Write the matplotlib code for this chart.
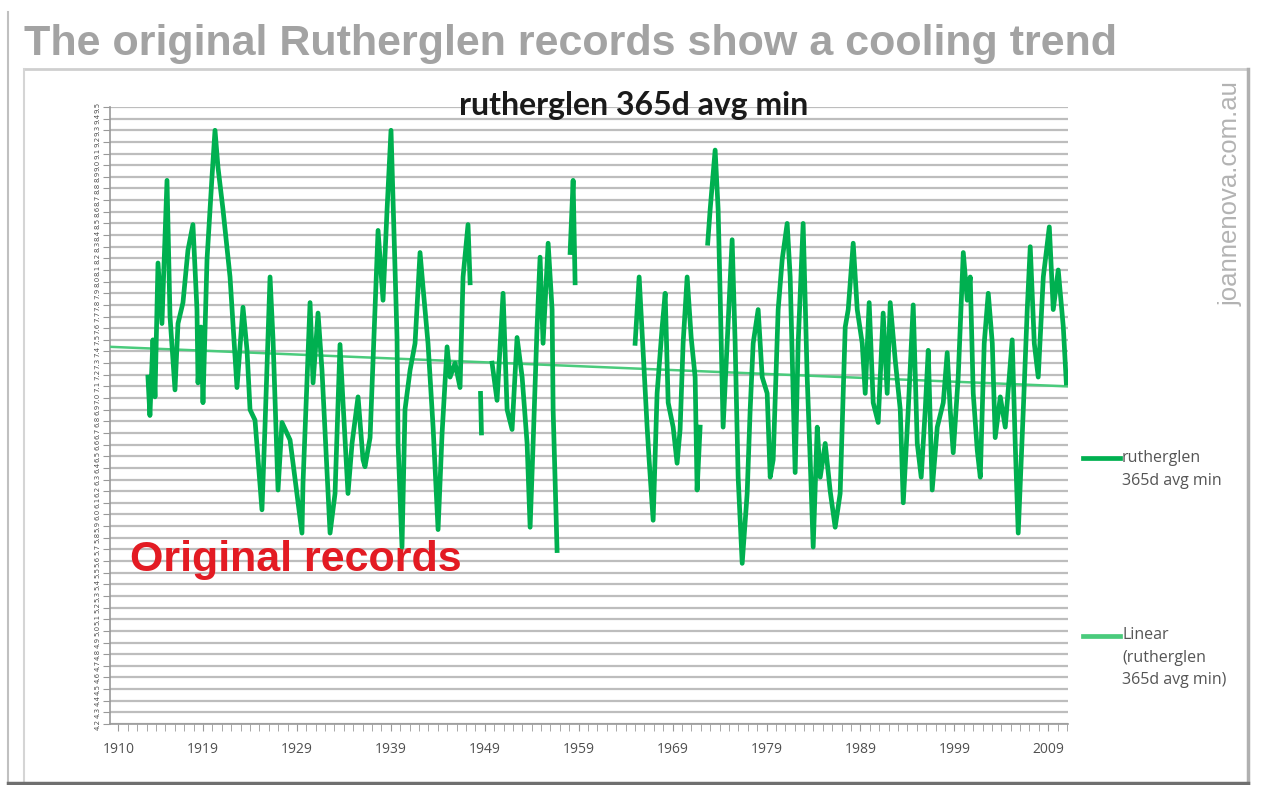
"""
Rutherglen 365-day average minimum temperature, original records.
"""

import numpy as np
import matplotlib
matplotlib.use("Agg")
import matplotlib.pyplot as plt
from matplotlib.lines import Line2D

# ------------------------------------------------------------------
# Data (nan = gap in the record)
# ------------------------------------------------------------------
nan = np.nan

years = [
    1913.14, 1913.35, 1913.67, 1913.89, 1914.21, 1914.63, 1915.17, 1915.49,
    1916.02, 1916.34, 1916.87, 1917.40, 1917.93, 1918.36, 1918.47, 1918.79,
    1919.00, 1919.43, 1919.96, 1920.28, 1920.60, 1921.13, 1921.88, 1922.62,
    1923.26, 1923.69, 1924.01, 1924.54, 1925.28, 1925.60, 1926.14, 1926.46,
    1926.99, 1927.41, 1928.27, 1929.54, 1929.65, 1930.40, 1930.72, 1931.25,
    1931.67, 1932.53, 1933.06, 1933.59, 1933.91, 1934.44, 1934.87, 1935.51,
    1936.04, 1936.25, 1936.79, 1937.32, 1937.64, 1938.17, 1938.60, 1939.02,
    1939.24, 1939.66, 1939.77, 1940.19, 1940.51, 1941.05, 1941.58, 1942.11,
    1942.43, 1942.96, 1943.50, 1944.03, 1944.46, 1944.99, 1945.31, 1945.84,
    1946.37, 1946.69, 1947.22, 1947.44,
    nan,
    1948.55, 1948.65,
    nan,
    1949.78, 1950.31, 1950.95, 1951.38, 1951.91, 1952.44, 1952.98, 1953.51,
    1953.83, 1954.15, 1954.57, 1954.89, 1955.21, 1955.75, 1956.17, 1956.28,
    1956.70,
    nan,
    1958.09, 1958.41, 1958.62,
    nan,
    1965.01, 1965.44, 1965.86, 1966.29, 1966.50, 1966.93, 1967.35, 1967.89,
    1968.21, 1968.53, 1969.06, 1969.48, 1969.80, 1970.12, 1970.55, 1970.98,
    1971.40, 1971.61, 1971.93,
    nan,
    1972.74, 1973.00, 1973.53, 1973.85, 1974.06, 1974.38, 1974.81, 1975.34,
    1975.66, 1975.98, 1976.41, 1976.94, 1977.26, 1977.58, 1978.11, 1978.54,
    1979.07, 1979.39, 1979.71, 1980.24, 1980.67, 1981.20, 1981.52, 1982.05,
    1982.37, 1982.90, 1983.33, 1983.65, 1983.97, 1984.40, 1984.72, 1985.25,
    1985.78, 1986.31, 1986.84, 1987.38, 1987.70, 1988.23, 1988.66, 1989.19,
    1989.51, 1989.93, 1990.36, 1990.89, 1991.42, 1991.85, 1992.17, 1992.70,
    1993.24, 1993.56, 1994.09, 1994.62, 1995.05, 1995.47, 1995.90, 1996.22,
    1996.64, 1997.18, 1997.82, 1998.24, 1998.56, 1998.88, 1999.41, 1999.95,
    2000.37, 2000.69, 2001.01, 2001.44, 2001.76, 2002.18, 2002.61, 2003.04,
    2003.35, 2003.89, 2004.42, 2005.16, 2005.48, 2005.80, 2006.34, 2006.76,
    2007.08, 2007.51, 2007.93, 2008.47, 2009.11, 2009.53, 2010.06, 2010.60,
    2010.92,
]

temps = [
    7.18, 6.85, 7.50, 7.01, 8.16, 7.64, 8.87, 7.70,
    7.07, 7.64, 7.82, 8.27, 8.49, 7.76, 7.13, 7.61,
    6.96, 8.19, 8.90, 9.30, 8.98, 8.62, 8.04, 7.09,
    7.78, 7.41, 6.90, 6.81, 6.04, 6.75, 8.04, 7.50,
    6.21, 6.79, 6.64, 5.84, 6.27, 7.82, 7.13, 7.73,
    7.24, 5.84, 6.18, 7.46, 6.96, 6.18, 6.61, 7.01,
    6.47, 6.41, 6.66, 7.76, 8.44, 7.84, 8.62, 9.30,
    8.68, 7.52, 6.61, 5.72, 6.90, 7.24, 7.47, 8.25,
    7.95, 7.47, 6.75, 5.87, 6.70, 7.44, 7.18, 7.30,
    7.09, 8.04, 8.49, 7.99,
    nan,
    7.04, 6.70,
    nan,
    7.30, 6.98, 7.90, 6.90, 6.73, 7.52, 7.18, 6.61,
    5.89, 6.61, 7.61, 8.21, 7.47, 8.33, 7.76, 6.90,
    5.69,
    nan,
    8.25, 8.87, 7.99,
    nan,
    7.47, 8.04, 7.41, 6.75, 6.47, 5.95, 7.04, 7.61,
    7.90, 6.96, 6.75, 6.44, 6.73, 7.47, 8.04, 7.52,
    7.18, 6.21, 6.75,
    nan,
    8.33, 8.62, 9.13, 8.62, 7.90, 6.75, 7.47, 8.36,
    7.47, 6.32, 5.58, 6.18, 6.90, 7.47, 7.76, 7.18,
    7.04, 6.32, 6.47, 7.76, 8.19, 8.50, 8.04, 6.36,
    7.47, 8.50, 7.18, 6.47, 5.72, 6.75, 6.32, 6.61,
    6.20, 5.89, 6.18, 7.61, 7.76, 8.33, 7.76, 7.47,
    7.04, 7.82, 6.96, 6.79, 7.73, 7.04, 7.82, 7.33,
    6.90, 6.10, 6.90, 7.80, 6.61, 6.32, 6.90, 7.41,
    6.21, 6.75, 6.96, 7.39, 6.90, 6.53, 7.18, 8.25,
    7.84, 8.04, 7.04, 6.55, 6.32, 7.47, 7.90, 7.47,
    6.66, 7.01, 6.75, 7.50, 6.61, 5.84, 6.90, 7.76,
    8.30, 7.47, 7.18, 8.04, 8.47, 7.76, 8.10, 7.61,
    7.13,
]

# linear trend, read at both ends of the axis
trend_years = [1909.1, 2011.1]
trend_temps = [7.44, 7.10]

x_labels = [1910, 1919, 1929, 1939, 1949, 1959, 1969, 1979, 1989, 1999, 2009]
y_ticks = np.round(np.arange(4.2, 9.5001, 0.1), 1)

GREEN = "#00B050"
TREND = "#4ACB7C"
W, H = 1261, 785

# ------------------------------------------------------------------
# Plot
# ------------------------------------------------------------------
fig = plt.figure(figsize=(W / 100, H / 100), dpi=100)
fig.patch.set_facecolor("white")

def fx(px):
    return px / W

def fy(py):
    return 1 - py / H

ax = fig.add_axes([fx(110), fy(724), fx(1068) - fx(110), fy(107) - fy(724)])
ax.plot(trend_years, trend_temps, color=TREND, lw=1.8, zorder=3)
ax.plot(years, temps, color=GREEN, lw=3.4, solid_joinstyle="round", zorder=4)

ax.set_xlim(1909.1, 2011.1)
ax.set_ylim(4.2, 9.5)

# Excel squeezed the 0.1-step labels into a rotated column
ax.set_yticks(y_ticks)
ax.set_yticklabels([f"{v:.1f}" for v in y_ticks], rotation=90, fontsize=5,
                   color="#505050", va="center")
ax.yaxis.grid(True, color="#bdbdbd", lw=1.6)
ax.set_axisbelow(True)

ax.set_xticks(x_labels)
ax.set_xticklabels([str(y) for y in x_labels], fontsize=10, color="#505050",
                   family="Open Sans")
ax.set_xticks(np.arange(1910, 2012, 1), minor=True)
ax.tick_params(axis="x", which="major", length=5, color="#999999", pad=8)
ax.tick_params(axis="x", which="minor", length=5, color="#999999")
ax.tick_params(axis="y", length=5, color="#999999", pad=2)

for side in ("top", "right"):
    ax.spines[side].set_visible(False)
for side in ("left", "bottom"):
    ax.spines[side].set_color("#9a9a9a")
    ax.spines[side].set_linewidth(1.2)

fig.text(fx(634), fy(106), "rutherglen 365d avg min", fontsize=23,
         fontweight="bold", family="Lato", color="#1a1a1a",
         ha="center", va="center")

ax.text(0.021, 0.265, "Original records", transform=ax.transAxes,
        fontsize=31, fontweight="bold", color="#E31B23",
        family="Liberation Sans", va="center")

# slide title + watermark
fig.text(fx(24), fy(44), "The original Rutherglen records show a cooling trend",
         fontsize=31, fontweight="bold", color="#a3a3a3",
         family="Liberation Sans", va="center", ha="left")
fig.text(fx(1231), fy(194), "joannenova.com.au", rotation=90, fontsize=18.5,
         color="#b3b3b3", family="Liberation Sans", va="center", ha="center")

# frame of the chart area
fig.add_artist(Line2D([fx(24), fx(1248)], [fy(69), fy(69)], color="#cfcfcf", lw=2))
fig.add_artist(Line2D([fx(1248), fx(1248)], [fy(69), fy(783)], color="#b0b0b0", lw=2.5))
fig.add_artist(Line2D([fx(24), fx(24)], [fy(69), fy(783)], color="#d5d5d5", lw=1.5))
fig.add_artist(Line2D([fx(8), fx(8)], [fy(12), fy(783)], color="#c0c0c0", lw=1.5))
fig.add_artist(Line2D([fx(8), fx(1248)], [fy(783), fy(783)], color="#6f6f6f", lw=2.5))

# legend (drawn by hand, Excel style)
fig.add_artist(Line2D([fx(1083), fx(1120)], [fy(458), fy(458)], color=GREEN, lw=3.4))
fig.text(fx(1122), fy(450), "rutherglen\n365d avg min", fontsize=11.5,
         color="#555555", family="Open Sans", va="top", ha="left",
         linespacing=1.55)
fig.add_artist(Line2D([fx(1083), fx(1120)], [fy(636), fy(636)], color=TREND, lw=3.4))
fig.text(fx(1122), fy(627), "Linear\n(rutherglen\n365d avg min)", fontsize=11.5,
         color="#555555", family="Open Sans", va="top", ha="left",
         linespacing=1.55)

fig.savefig("out.png", dpi=100)
